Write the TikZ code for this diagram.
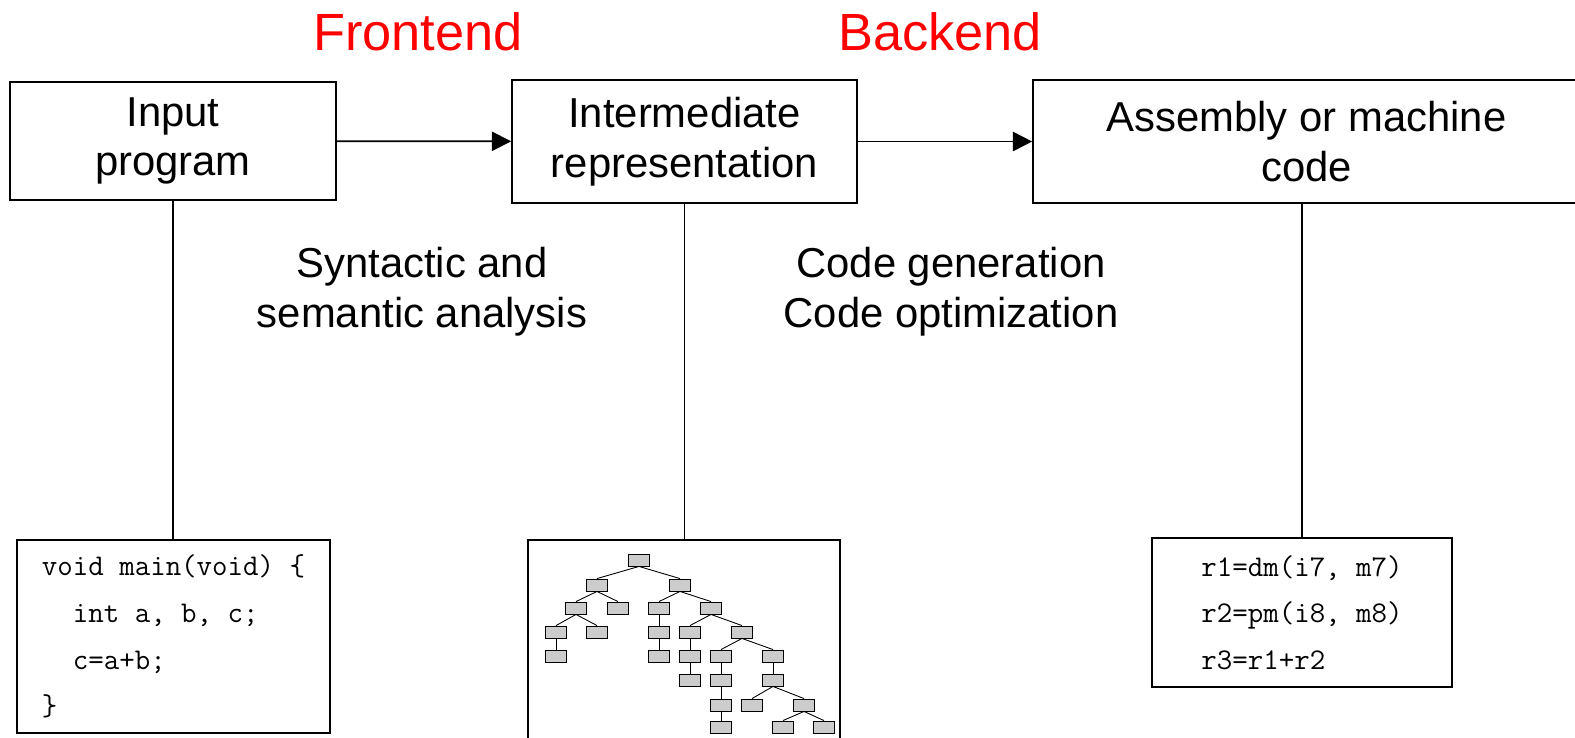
\documentclass[tikz,border=0pt]{standalone}
\usepackage{fontspec}
\setmainfont{Liberation Sans}
\usetikzlibrary{arrows.meta}

\begin{document}
\begin{tikzpicture}[x=0.02cm,y=-0.02cm,line width=1pt,
      >={Triangle[length=11pt,width=11pt]},
      stage/.style={draw,inner sep=0pt,align=center,
        font=\fontsize{23.8}{28.3}\selectfont},
      phase/.style={align=center,font=\fontsize{23.8}{28.3}\selectfont},
      headline/.style={text=red,font=\fontsize{29.8}{35}\selectfont},
      codebox/.style={draw,inner sep=0pt,align=left,
        font=\fontsize{17.1}{26.6}\selectfont\ttfamily},
      leaf/.style={draw,fill=black!20,line width=0.5pt,inner sep=0pt,
        minimum width=0.42cm,minimum height=0.24cm}]
  \useasboundingbox(0,0)rectangle(1575,737);
  % headings
  \node[headline] (front) at (418,32) {Frontend};
  \node[headline] (back) at (940,32) {Backend};
  % stages
  \node[stage,minimum width=6.52cm,minimum height=2.36cm] (input) at (173,141)
    {Input\\program};
  \node[stage,minimum width=6.9cm,minimum height=2.46cm] (ir) at (684.5,141.5)
    {Intermediate\\representation};
  \node[stage,minimum width=10.94cm,minimum height=2.46cm] (asm) at (1306.5,141.5)
    {Assembly or machine\\code};
  \draw[->](input)--(ir);
  \draw[->](ir)--(asm);
  \node[phase] (analysis) at (422,292) {Syntactic and\\semantic analysis};
  \node[phase] (codegen) at (951,292) {Code generation\\Code optimization};
  % examples
  \node[codebox,minimum width=6.26cm,minimum height=3.86cm] (src) at (173.5,636.5)
    {void main(void) \{\\\ \ int a, b, c;\\\ \ c=a+b;\\\}};
  \node[draw,inner sep=0pt,minimum width=6.24cm,minimum height=4.2cm] (tree) at (684,645) {};
  \node[codebox,minimum width=6cm,minimum height=2.98cm] (asmcode) at (1302,612.5)
    {r1=dm(i7, m7)\\r2=pm(i8, m8)\\r3=r1+r2};
  \draw(input.south)--(input.south|-src.north);
  \draw(ir.south)--(ir.south|-tree.north);
  \draw(asmcode.north)--(asmcode.north|-asm.south);
  % syntax tree
  \foreach \n/\x/\y in {r/639/560,a/597/585,b/680/585,c/576/608,d/618/608,
      e/659/608,f/711/608,g/556/632,h/597/632,i/659/632,j/690/632,k/742/632,
      l/556/656,m/659/656,n/690/656,o/721/656,p/773/656,q/690/680,s/721/680,
      u/773/680,v/721/705,w/752/705,z/804/705,x1/721/727,x2/783/727,x3/824/727}
    \node[leaf] (t\n) at (\x,\y) {};
  \foreach \p/\c in {r/a,r/b,a/c,a/d,b/e,b/f,c/g,c/h,e/i,f/j,f/k,g/l,i/m,j/n,
      k/o,k/p,n/q,o/s,p/u,s/v,u/w,u/z,v/x1,z/x2,z/x3}
    \draw[line width=0.5pt](t\p.south)--(t\c.north);
\end{tikzpicture}
\end{document}
